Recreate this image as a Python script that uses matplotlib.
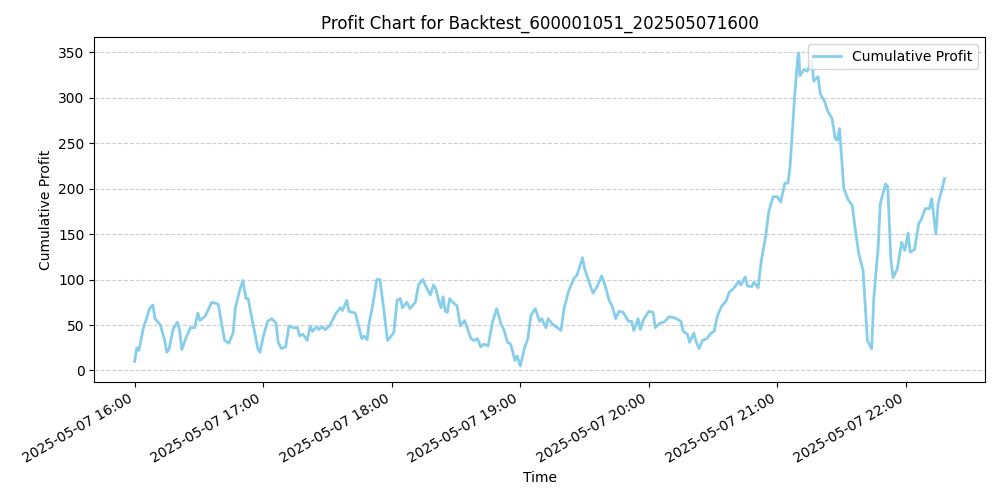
import matplotlib
matplotlib.use("Agg")
import matplotlib.pyplot as plt
import matplotlib.dates as mdates
import pandas as pd

minutes = [0,1,2,4,7,8.5,9.5,12,14,15,16,18,20,21,22,24,26,28,29.5,30.5,33,36,39,40.5,42,44,46,47,49,50.5,52,53,54,56,57.5,58.5,60,62,64,66,67,68.5,70.5,72,74,76,77,78.5,80.5,82,83,85,86,87.5,89,91,94,96,97,99,100,103,105,106,107,108.5,109.5,111,113,114.5,116.5,118,119.5,121,122.5,124,125,127,128.5,131,132.5,134.5,136,138,139.5,140.5,142,143,144,145,146,147,148,150.5,152,154,155,157,158.5,160,161.5,163,165,167,169,171,172.5,174,175.5,177.5,178.5,180,182,183.5,185,187,189,190,192,193,195,199,200.5,202.5,205,206.5,209,210,213,214,216,218,219.5,221.5,223,224.5,226,228,229.5,230.5,232,233,235,236,237.5,240,242,243,245,247,249.5,252,255,256,258,259,261,262,263.5,265,267,269,270.5,272,274,276,277.5,279.5,282,283,285,286,288,289,291,292.5,294.5,296,298,300,301.5,303.5,305,306,308,309.5,310,310.5,312.5,314,316,317,319,320,322,323.5,325.5,327,328,329,331,333,335,336,338,340,342,344,345,347,348,350.5,351.5,353,354,356,358,359.5,361,362,364,366,367,369,371,372,374,375,377,378]
profit = [10,25,22,46,68,72,57,50,33,20,23,46,53,44,23,36,47,47,63,55,60,75,73,53,33,30,42,69,88,99,79,79,66,42,24,20,37,54,57,52,31,24,26,49,47,47,38,40,33,49,43,48,45,48,45,49,63,69,66,77,65,63,44,35,38,34,53,70,100,100,63,33,37,42,77,79,69,75,68,75,94,100,92,83,94,90,76,69,81,65,64,79,76,71,49,55,48,35,33,35,26,29,27,53,68,51,44,31,29,11,16,5,25,35,61,68,54,57,47,57,51,44,69,87,101,105,124,112,91,85,93,104,94,77,70,57,65,64,58,54,54,44,57,45,56,65,64,47,52,53,59,58,54,43,40,31,41,32,24,33,35,41,43,60,71,76,86,90,98,94,103,93,92,97,91,121,147,175,191,191,185,206,206,227,300,344,349,324,331,329,340,318,323,304,296,285,277,255,253,266,200,188,181,161,128,110,33,24,80,134,183,205,202,121,102,112,141,132,151,130,133,162,165,178,178,189,150,183,201,211]

start = pd.Timestamp("2025-05-07 16:00")
times = [start + pd.Timedelta(minutes=m) for m in minutes]

fig, ax = plt.subplots(figsize=(10, 5), dpi=100)
ax.plot(times, profit, color="skyblue", linewidth=2, label="Cumulative Profit")
ax.set_title("Profit Chart for Backtest_600001051_202505071600")
ax.set_xlabel("Time")
ax.set_ylabel("Cumulative Profit")
ax.grid(axis="y", linestyle="--", alpha=0.6)
ax.legend(loc="upper right")
ax.xaxis.set_major_locator(mdates.HourLocator())
ax.xaxis.set_major_formatter(mdates.DateFormatter("%Y-%m-%d %H:%M"))
fig.autofmt_xdate()
fig.tight_layout()
fig.savefig("out.png")
